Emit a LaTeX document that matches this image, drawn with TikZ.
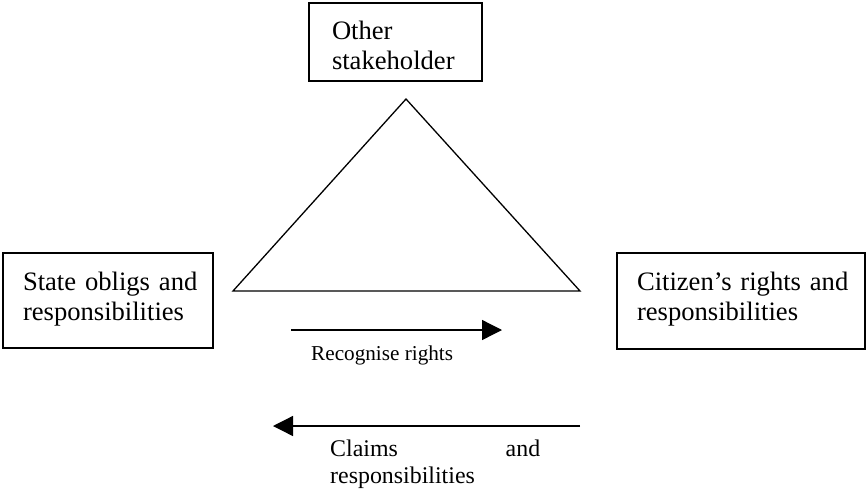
\documentclass[tikz,border=0pt]{standalone}
\usepackage{fontspec}
\setmainfont{Liberation Serif}
\usetikzlibrary{arrows.meta}
\begin{document}
\begin{tikzpicture}[x=1pt,y=-1pt,
  box/.style={draw, line width=1.2pt, rectangle, inner sep=0pt, align=left,
    font=\fontsize{26.6}{30.8}\selectfont},
  arr/.style={line width=1.3pt, -{Triangle[length=20pt,width=20pt]}},
  tri/.style={line width=1.3pt, line join=miter}]
\useasboundingbox (0,0) rectangle (866,490);
% boxes
\node[box, line width=1.6pt, minimum width=173pt, minimum height=78pt, text width=127pt,
      text height=18pt, text depth=24pt] (other) at (395.5,42)
  {\mbox{Other}\\\mbox{stakeholder}};
\node[box, minimum width=210pt, minimum height=95pt, text width=170pt,
      text height=18pt, text depth=39pt] (state) at (108,300.5)
  {\mbox{State obligs and}\\\mbox{responsibilities}};
\node[box, minimum width=248pt, minimum height=96pt, text width=208pt,
      text height=18pt, text depth=40pt] (citizen) at (741,301)
  {\mbox{Citizen’s rights and}\\\mbox{responsibilities}};
% triangle
\coordinate (apex) at (406,99);
\coordinate (bl) at (233,291);
\coordinate (br) at (580,291);
\draw[tri] (apex) -- (bl) -- (br) -- cycle;
% arrows
\coordinate (a1s) at (291,330);
\coordinate (a1e) at (502,330);
\draw[arr] (a1s) -- (a1e);
\node[anchor=base west, inner sep=0pt, font=\fontsize{21.2}{24}\selectfont] (recog) at (311,360) {Recognise rights};
\coordinate (a2s) at (580,426);
\coordinate (a2e) at (273,426);
\draw[arr] (a2s) -- (a2e);
\node[anchor=base west, inner sep=0pt, text width=210pt, align=left,
      font=\fontsize{23.9}{26.8}\selectfont] (claims) at (330,456.7)
  {\mbox{Claims}\hfill\mbox{and}\\\mbox{responsibilities}};
\end{tikzpicture}
\end{document}
